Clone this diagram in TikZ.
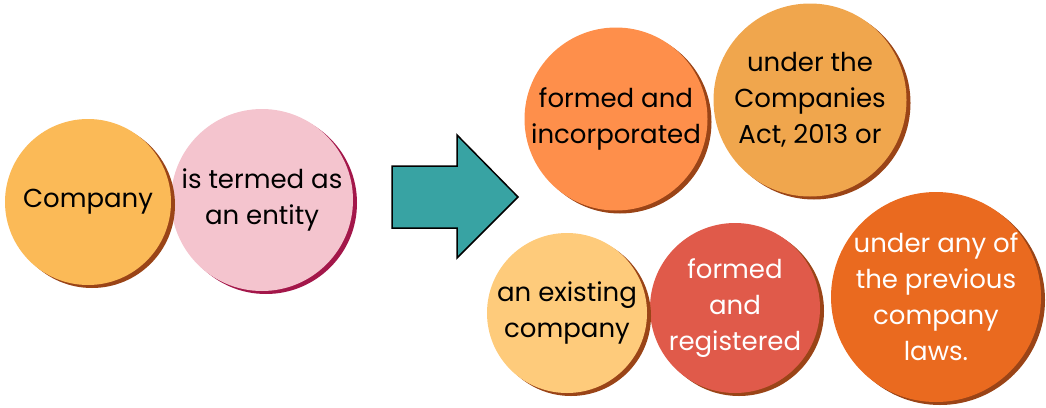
\documentclass[tikz,border=0pt]{standalone}
\usepackage{fontspec}
\setmainfont{Poppins}
\usetikzlibrary{shadows}
\definecolor{cCompany}{HTML}{FBBA57}
\definecolor{cPink}{HTML}{F4C4CE}
\definecolor{cFormInc}{HTML}{FE8F4B}
\definecolor{cUnderThe}{HTML}{F0A64D}
\definecolor{cExisting}{HTML}{FECB7B}
\definecolor{cFormReg}{HTML}{E05A4A}
\definecolor{cUnderAny}{HTML}{EA6A1F}
\definecolor{cTeal}{HTML}{38A3A3}
\definecolor{sBrown}{HTML}{9A4417}
\definecolor{sCrimson}{HTML}{A3174A}
\tikzset{
  bubble/.style={circle, inner sep=0pt, draw=none, align=center,
    font=\fontsize{26}{36}\selectfont,
    drop shadow={shadow xshift=4pt, shadow yshift=-3pt, fill=#1, opacity=1}},
  bubble/.default=sBrown,
}
\begin{document}
\begin{tikzpicture}[x=1pt,y=-1pt]
\useasboundingbox (0,0) rectangle (1046,407);
% left pair (right one first so left sits on top)
\node[bubble=sCrimson, fill=cPink, minimum size=182pt] (entity) at (262,200) {is termed as\\an entity};
\node[bubble, fill=cCompany, minimum size=166pt] (company) at (88,202) {Company};
% arrow
\draw[fill=cTeal, line width=1.5pt, line join=miter]
  (392,166) -- (457,166) -- (457,135) -- (518,197) -- (457,258) -- (457,228) -- (392,228) -- cycle;
% top row
\node[bubble, fill=cUnderThe, minimum size=193pt] (underthe) at (810,100) {under the\\Companies\\Act, 2013 or};
\node[bubble, fill=cFormInc, minimum size=183pt] (forminc) at (616,119) {formed and\\incorporated};
% bottom row
\node[bubble, fill=cUnderAny, minimum size=210pt, text=white] (underany) at (936,297) {under any of\\the previous\\company\\laws.};
\node[bubble, fill=cFormReg, minimum size=170pt, text=white] (formreg) at (735,308) {formed\\and\\registered};
\node[bubble, fill=cExisting, minimum size=160pt] (existing) at (567,313) {an existing\\company};
\end{tikzpicture}
\end{document}
